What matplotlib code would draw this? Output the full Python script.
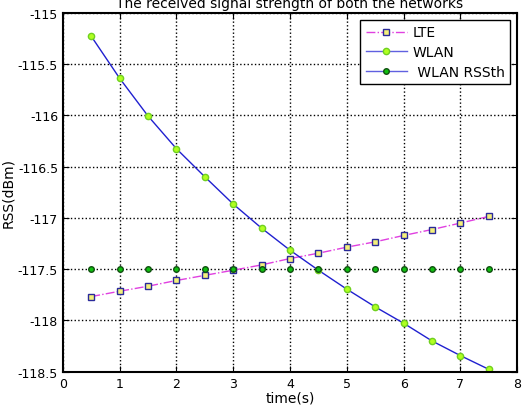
import matplotlib
matplotlib.use('Agg')
import matplotlib.pyplot as plt
from matplotlib.lines import Line2D

# time axis (s)
t = [0.5, 1, 1.5, 2, 2.5, 3, 3.5, 4, 4.5, 5, 5.5, 6, 6.5, 7, 7.5]
# received signal strength (dBm)
lte = [-117.767, -117.715, -117.666, -117.61, -117.56, -117.51, -117.458, -117.396,
       -117.344, -117.285, -117.233, -117.171, -117.113, -117.05, -116.985]
wlan = [-115.228, -115.638, -116.006, -116.325, -116.599, -116.865, -117.10, -117.315,
        -117.51, -117.695, -117.868, -118.027, -118.20, -118.343, -118.477]
rss_th = [-117.5] * len(t)

yticks = [-115, -115.5, -116, -116.5, -117, -117.5, -118, -118.5]
yticklabels = ['-115', '-115.5', '-116', '-116.5', '-117', '-117.5', '-118', '-118.5']

fig = plt.figure(figsize=(5.24, 4.10), dpi=100)
ax = fig.add_axes([0.12, 0.091, 0.867, 0.875])

ax.plot(t, lte, color='#e040e0', linestyle='-.', linewidth=1,
        marker='s', markersize=4.5, markerfacecolor='#f4f07a', markeredgecolor='#2a2a9a')
ax.plot(t, wlan, color='#2020d0', linewidth=1,
        marker='o', markersize=4.5, markerfacecolor='#b0ff20', markeredgecolor='#70d020')
ax.plot(t, rss_th, linestyle='none',
        marker='o', markersize=4, markerfacecolor='#10c010', markeredgecolor='#105010')

handles = [
    Line2D([], [], color='#e040e0', linestyle='-.', linewidth=1, marker='s', markersize=4.5,
           markerfacecolor='#f4f07a', markeredgecolor='#2a2a9a'),
    Line2D([], [], color='#6060e0', linewidth=1, marker='o', markersize=4.5,
           markerfacecolor='#b0ff20', markeredgecolor='#70d020'),
    Line2D([], [], color='#6060e0', linewidth=1, marker='o', markersize=4,
           markerfacecolor='#10c010', markeredgecolor='#105010'),
]
leg = ax.legend(handles, ['LTE', 'WLAN', ' WLAN RSSth'], loc='upper right',
                fontsize=10, fancybox=False, framealpha=1, edgecolor='black',
                borderaxespad=0.5, handlelength=3, handletextpad=0.4,
                labelspacing=0.4, borderpad=0.4)
leg.get_frame().set_linewidth(1)

ax.set_xlim(0, 8)
ax.set_ylim(-118.5, -115)
ax.set_yticks(yticks)
ax.set_yticklabels(yticklabels)
ax.set_xticks(range(0, 9))
ax.tick_params(direction='in', labelsize=9, length=4, top=True, right=True)
ax.grid(True, color='black', linestyle=':', linewidth=1)
for s in ax.spines.values():
    s.set_linewidth(1.5)

ax.set_xlabel('time(s)', fontsize=10, labelpad=1)
ax.set_ylabel('RSS(dBm)', fontsize=10, labelpad=2)
ax.set_title('The received signal strength of both the networks', fontsize=10, pad=4)

plt.savefig('out.png', dpi=100)
